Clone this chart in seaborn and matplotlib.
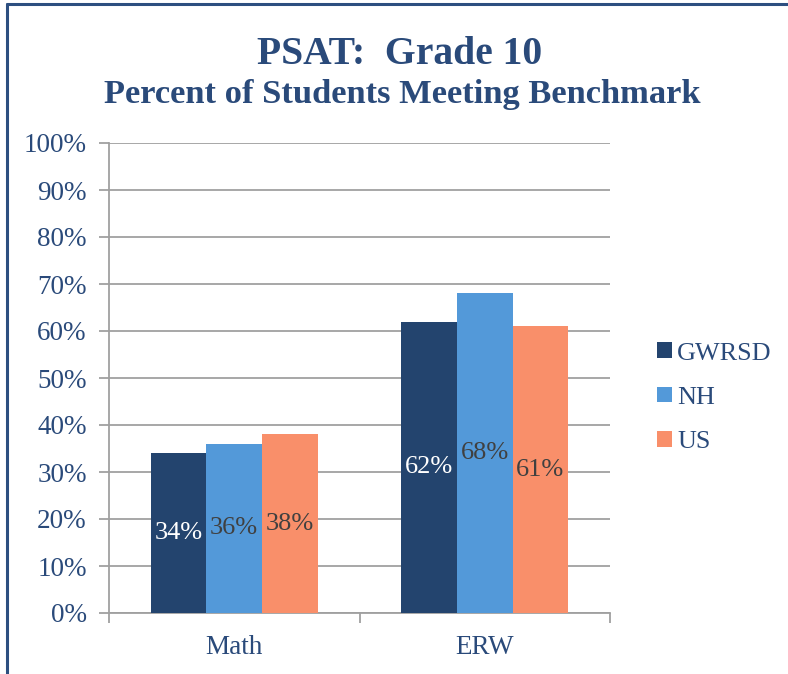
import matplotlib
matplotlib.use("Agg")
import matplotlib.pyplot as plt
import seaborn as sns
import pandas as pd
from matplotlib.lines import Line2D
from matplotlib.patches import Patch

categories = ["Math", "ERW"]
series = ["GWRSD", "NH", "US"]
gwrsd = [34, 62]
nh = [36, 68]
us = [38, 61]
colors = ["#23446e", "#5399d9", "#f98f6a"]
label_colors = ["white", "#404040", "#404040"]
yticks = [0, 10, 20, 30, 40, 50, 60, 70, 80, 90, 100]

rows = []
for s, vals in zip(series, [gwrsd, nh, us]):
    for c, v in zip(categories, vals):
        rows.append({"cat": c, "series": s, "value": v})
df = pd.DataFrame(rows)

sns.set_theme(style="white")
plt.rcParams["font.family"] = ["Liberation Serif", "DejaVu Serif"]
navy = "#2a4a7a"

fig = plt.figure(figsize=(7.88, 6.74), dpi=100)
ax = fig.add_axes([109/788, 1-613/674, 501/788, 470/674])
sns.barplot(data=df, x="cat", y="value", hue="series", palette=colors,
            width=0.665, ax=ax, saturation=1, legend=False, zorder=3,
            edgecolor="none", linewidth=0)

for cont, lc in zip(ax.containers, label_colors):
    ax.bar_label(cont, labels=[f"{v:.0f}%" for v in cont.datavalues],
                 label_type="center", color=lc, fontsize=19)

ax.set_ylim(0, 100)
ax.set_xlim(-0.5, 1.5)
ax.set_yticks(yticks)
ax.set_yticklabels([f"{t}%" for t in yticks])
ax.yaxis.grid(True, color="#a0a0a0", linewidth=1.3, zorder=0)
ax.set_axisbelow(True)
ax.set_xlabel("")
ax.set_ylabel("")
for sp in ["top", "right"]:
    ax.spines[sp].set_visible(False)
for sp in ["left", "bottom"]:
    ax.spines[sp].set_color("#a0a0a0")
    ax.spines[sp].set_linewidth(1.3)
ax.tick_params(axis="y", which="both", length=7, width=1.3, color="#a0a0a0",
               labelsize=19.5, labelcolor=navy, left=True, pad=9)
ax.tick_params(axis="x", which="major", length=0, labelsize=19.5, labelcolor=navy, pad=16)
ax.set_xticks([-0.5, 0.5, 1.5], minor=True)
ax.tick_params(axis="x", which="minor", length=7, width=1.3, color="#a0a0a0", bottom=True)

handles = [Patch(facecolor=c, edgecolor="none") for c in colors]
leg = fig.legend(handles, series, loc="upper left", bbox_to_anchor=(647/788, 1-332/674),
                 frameon=False, fontsize=18.8, handlelength=0.55, handleheight=0.55,
                 handletextpad=0.2, labelspacing=0.85, borderaxespad=0)
for t in leg.get_texts():
    t.set_color(navy)

fig.text(0.5 + 6/788, 1-55/674, "PSAT:  Grade 10", ha="center", va="center",
         fontsize=28.5, fontweight="bold", color=navy)
fig.text(0.5 + 8/788, 1-95/674, "Percent of Students Meeting Benchmark", ha="center",
         va="center", fontsize=24.8, fontweight="bold", color=navy)

fig.add_artist(Line2D([7/788, 7/788], [0, 1-4/674], color="#2d4f80", linewidth=2.2,
                      transform=fig.transFigure))
fig.add_artist(Line2D([7/788, 1], [1-4/674, 1-4/674], color="#2d4f80", linewidth=2.2,
                      transform=fig.transFigure))

fig.savefig("out.png", dpi=100)
